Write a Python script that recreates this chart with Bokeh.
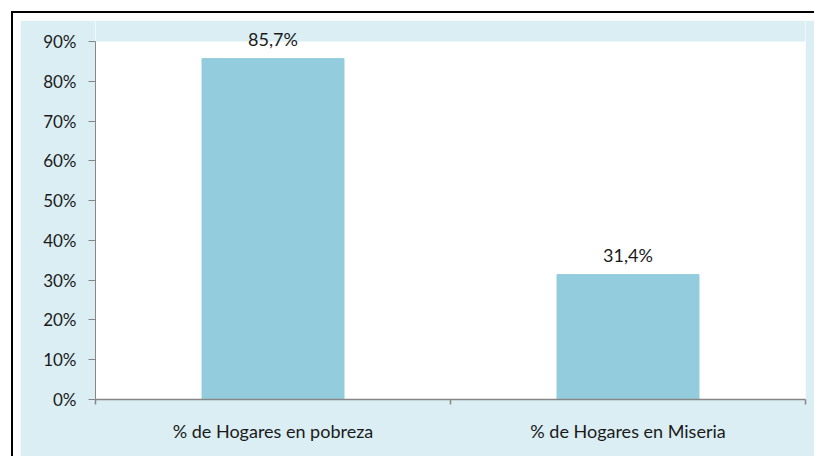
from bokeh.plotting import figure
from bokeh.models import (ColumnDataSource, FixedTicker, PrintfTickFormatter,
                          Range1d, LabelSet)
from bokeh.core.properties import value
from bokeh.layouts import column
from bokeh.embed import file_html
from bokeh.resources import INLINE

categories = ["% de Hogares en pobreza", "% de Hogares en Miseria"]
values = [85.7, 31.4]
value_labels = ["85,7%", "31,4%"]
y_ticks = [0, 10, 20, 30, 40, 50, 60, 70, 80, 90]
y_max_tick = 90

FONT = "Lato"
TXT = "#1a1a1a"
AXIS = "#868686"
BG = "#DBEEF3"

W, H = 794, 436
BORDER_BOTTOM = 57
TOP_PAD = 21  # blue band above the plot area, px
frame_h = H - BORDER_BOTTOM
y_end = y_max_tick * frame_h / (frame_h - TOP_PAD)

xs = [i + 0.5 for i in range(len(categories))]
src = ColumnDataSource(dict(x=xs, top=values, lab=value_labels))

p = figure(width=W, height=H, output_backend="svg", toolbar_location=None,
           x_range=Range1d(0, len(categories)), y_range=Range1d(0, y_end),
           min_border_left=75, min_border_right=9, min_border_top=0,
           min_border_bottom=BORDER_BOTTOM)
p.background_fill_color = "white"
p.border_fill_color = BG
p.outline_line_color = None
p.grid.grid_line_color = None

# blue band above the 90% line (part of the chart background)
p.quad(left=[0], right=[len(categories)], bottom=[y_max_tick], top=[y_end],
       fill_color=BG, line_color=None, level="underlay")

p.vbar(x="x", top="top", width=0.4, bottom=0, source=src,
       fill_color="#93CDDD", line_color="#93CDDD")

labels = LabelSet(x="x", y="top", text="lab", source=src, text_align="center",
                  text_baseline="bottom", y_offset=9, text_font=value(FONT),
                  text_font_size=value("18px"), text_color=value(TXT))
p.add_layout(labels)

# y axis
ya = p.yaxis[0]
ya.ticker = FixedTicker(ticks=y_ticks)
ya.bounds = (0, y_max_tick)
ya.formatter = PrintfTickFormatter(format="%d%%")
ya.axis_line_color = AXIS
ya.major_tick_line_color = AXIS
ya.major_tick_out = 7
ya.major_tick_in = 0
ya.minor_tick_line_color = None
ya.major_label_standoff = 12
ya.major_label_text_font = FONT
ya.major_label_text_font_size = "17px"
ya.major_label_text_color = TXT

# x axis: labels at centres, tick marks at category boundaries
xa = p.xaxis[0]
xa.ticker = FixedTicker(ticks=xs, minor_ticks=list(range(len(categories) + 1)))
xa.major_label_overrides = {x: c for x, c in zip(xs, categories)}
xa.axis_line_color = AXIS
xa.axis_line_width = 1.5
xa.major_tick_line_color = None
xa.major_tick_out = 0
xa.minor_tick_line_color = AXIS
xa.minor_tick_line_width = 1.5
xa.minor_tick_out = 5
xa.minor_tick_in = 0
xa.major_label_standoff = 15
xa.major_label_text_font = FONT
xa.major_label_text_font_size = "18px"
xa.major_label_text_color = TXT

layout = column(p, margin=(11, 0, 0, 11),
                styles={"border-left": "2px solid black",
                        "border-top": "2px solid black",
                        "padding-left": "7px", "padding-top": "7px",
                        "background-color": "white"})

open("out.html", "w").write(file_html(layout, INLINE))
